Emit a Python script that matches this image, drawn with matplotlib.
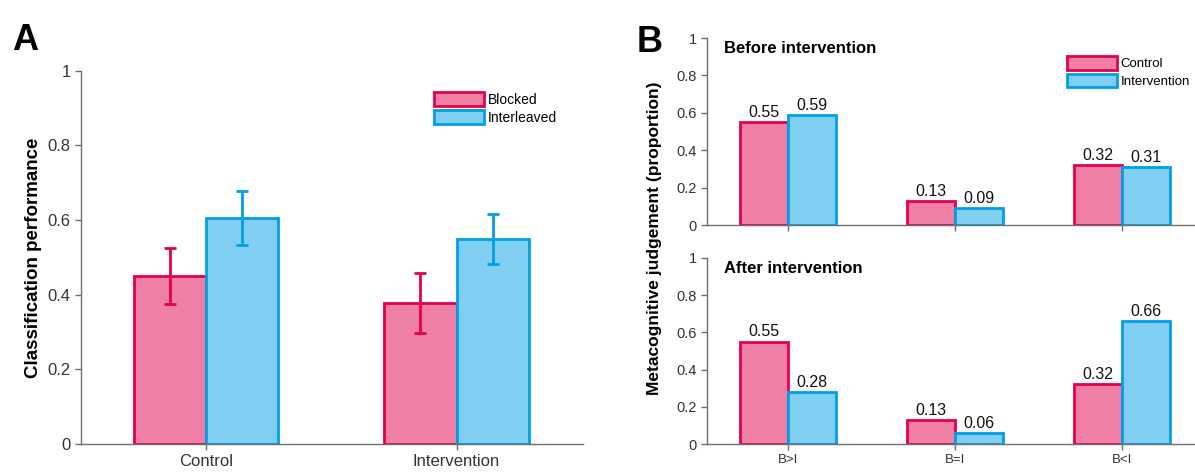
import numpy as np
import matplotlib
matplotlib.use("Agg")
import matplotlib.pyplot as plt
from matplotlib.ticker import FuncFormatter

plt.rcParams['font.family'] = ['Liberation Sans', 'DejaVu Sans']

PINK_FILL = "#F07FA5"
PINK_EDGE = "#E5004F"
BLUE_FILL = "#80CEF2"
BLUE_EDGE = "#00A0E6"
AXIS_GRAY = "#6E6E6E"
TEXT_GRAY = "#333333"

# Panel A data
groups_a = ["Control", "Intervention"]
blocked = [0.45, 0.378]
blocked_err = [0.075, 0.080]
interleaved = [0.605, 0.55]
interleaved_err = [0.072, 0.067]

# Panel B data
judgements = ["B>I", "B=I", "B<I"]
before_control = [0.55, 0.13, 0.32]
before_intervention = [0.59, 0.09, 0.31]
after_control = [0.55, 0.13, 0.32]
after_intervention = [0.28, 0.06, 0.66]

BAR_W = 0.288
fmt = FuncFormatter(lambda v, p: f"{v:g}")


def style_axes(ax, ticksize):
    for s in ["top", "right"]:
        ax.spines[s].set_visible(False)
    for s in ["left", "bottom"]:
        ax.spines[s].set_color(AXIS_GRAY)
        ax.spines[s].set_linewidth(1.0)
    ax.tick_params(axis="both", colors=AXIS_GRAY, labelcolor=TEXT_GRAY,
                   length=4, width=1.0, labelsize=ticksize, direction="out")
    ax.set_ylim(0, 1)
    ax.set_yticks([0, 0.2, 0.4, 0.6, 0.8, 1])
    ax.yaxis.set_major_formatter(fmt)


fig = plt.figure(figsize=(11.95, 4.76), dpi=100)

# ---- Panel A ----
axA = fig.add_axes([0.0678, 0.0672, 0.4200, 0.7840])
x = np.arange(1, len(groups_a) + 1)
axA.bar(x - BAR_W / 2, blocked, BAR_W, color=PINK_FILL, edgecolor=PINK_EDGE,
        linewidth=2, label="Blocked", zorder=2)
axA.bar(x + BAR_W / 2, interleaved, BAR_W, color=BLUE_FILL, edgecolor=BLUE_EDGE,
        linewidth=2, label="Interleaved", zorder=2)
axA.errorbar(x - BAR_W / 2, blocked, yerr=blocked_err, fmt="none",
             ecolor=PINK_EDGE, elinewidth=2, capsize=4, capthick=2, zorder=3)
axA.errorbar(x + BAR_W / 2, interleaved, yerr=interleaved_err, fmt="none",
             ecolor=BLUE_EDGE, elinewidth=2, capsize=4, capthick=2, zorder=3)
axA.set_xlim(0.5, 2.505)
axA.set_xticks(x)
axA.set_xticklabels(groups_a)
style_axes(axA, 12)
axA.set_ylabel("Classification performance", fontsize=13.5, fontweight="bold",
               color="black", labelpad=4)
axA.legend(loc="upper right", bbox_to_anchor=(0.96, 0.958), frameon=False,
           fontsize=10, handlelength=3.6, handleheight=1.15, handletextpad=0.3,
           labelspacing=0.25, borderaxespad=0)
fig.text(0.010, 0.895, "A", fontsize=26, fontweight="bold")

# ---- Panel B ----
xb = np.arange(1, len(judgements) + 1)
panels = [
    ([0.5916, 0.527, 0.4084, 0.393], before_control, before_intervention, "Before intervention"),
    ([0.5916, 0.0672, 0.4084, 0.391], after_control, after_intervention, "After intervention"),
]
axes_b = []
for rect, ctrl, intv, title in panels:
    ax = fig.add_axes(rect)
    ax.bar(xb - BAR_W / 2, ctrl, BAR_W, color=PINK_FILL, edgecolor=PINK_EDGE,
           linewidth=2, label="Control", zorder=2)
    ax.bar(xb + BAR_W / 2, intv, BAR_W, color=BLUE_FILL, edgecolor=BLUE_EDGE,
           linewidth=2, label="Intervention", zorder=2)
    for xi, v in zip(xb - BAR_W / 2, ctrl):
        ax.text(xi, v + 0.012, f"{v:.2f}", ha="center", va="bottom", fontsize=11.5,
                color="#111111")
    for xi, v in zip(xb + BAR_W / 2, intv):
        ax.text(xi, v + 0.012, f"{v:.2f}", ha="center", va="bottom", fontsize=11.5,
                color="#111111")
    ax.set_xlim(0.515, 3.44)
    ax.set_xticks(xb)
    style_axes(ax, 10.5)
    ax.text(0.035, 0.945, title, transform=ax.transAxes, fontsize=12,
            fontweight="bold", va="center", ha="left")
    axes_b.append(ax)

axes_b[0].set_xticklabels([])
axes_b[1].set_xticklabels(judgements, fontsize=9.5)
axes_b[0].legend(loc="upper right", bbox_to_anchor=(1.0, 0.93), frameon=False,
                 fontsize=9.5, handlelength=3.8, handleheight=1.15, handletextpad=0.25,
                 labelspacing=0.25, borderaxespad=0)
fig.text(0.548, 0.50, "Metacognitive judgement (proportion)", rotation=90,
         fontsize=12.5, fontweight="bold", ha="center", va="center")
fig.text(0.533, 0.89, "B", fontsize=26, fontweight="bold")

fig.savefig("out.png", dpi=100)
